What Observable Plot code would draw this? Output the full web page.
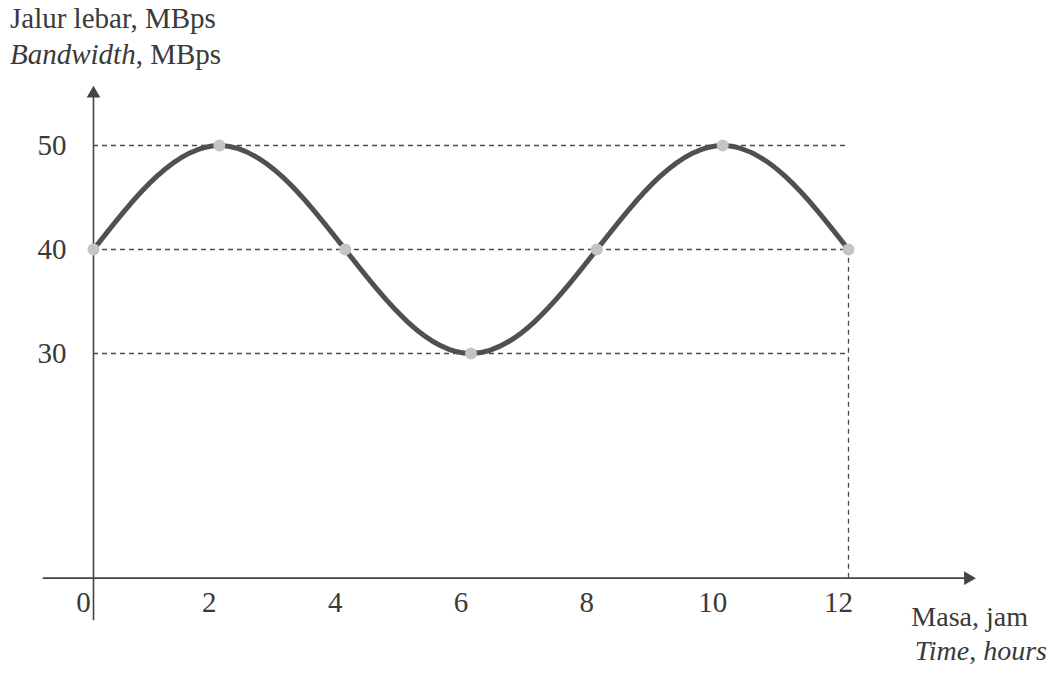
<!DOCTYPE html>
<html>
<head>
<meta charset="utf-8">
<script src="https://cdn.jsdelivr.net/npm/d3@7"></script>
<script src="https://cdn.jsdelivr.net/npm/@observablehq/plot@0.6"></script>
<style>
  html, body { margin: 0; padding: 0; background: #ffffff; }
  #wrap { position: relative; width: 1052px; height: 677px; overflow: hidden; font-family: "Liberation Serif", "DejaVu Serif", serif; color: #3a3a3a; }
  .lbl { position: absolute; font-size: 29px; line-height: 29px; white-space: nowrap; }
  .lbl.tight { font-size: 28px; line-height: 26px; }
  #chart { position: absolute; left: 0; top: 0; }
</style>
</head>
<body>
<div id="wrap">
  <div id="chart"></div>
  <div class="lbl" style="left:10px; top:4px;">Jalur lebar, MBps</div>
  <div class="lbl" style="left:10px; top:40px;"><i>Bandwidth</i>, MBps</div>
  <div class="lbl tight" style="right:24px; top:604px;">Masa, jam</div>
  <div class="lbl tight" style="right:5px; top:638px;"><i>Time</i>, <i>hours</i></div>
</div>
<script>
// Data
const hours = [0, 1, 2, 3, 4, 5, 6, 7, 8, 9, 10, 11, 12];
const bandwidth = [40, 47, 50, 47, 40, 33, 30, 33, 40, 47, 50, 47, 40];
const markHours = [0, 2, 4, 6, 8, 10, 12];
const markValues = [40, 50, 40, 30, 40, 50, 40];
const xTicks = [0, 2, 4, 6, 8, 10, 12];
const yTicks = [30, 40, 50];
const refLines = [30, 40, 50];

// axis extents (in data units) of the hand-drawn axes
const xAxisAt = 8.4;          // y value where the time axis crosses
const xAxisExtent = [-0.8, 13.9];
const yAxisExtent = [4.3, 55];

const curve = hours.map((h, i) => ({h, v: bandwidth[i]}));
const marks = markHours.map((h, i) => ({h, v: markValues[i]}));

const ink = "#444444";
const font = "Liberation Serif";

const plot = Plot.plot({
  width: 1052,
  height: 677,
  marginLeft: 93,
  marginRight: 204,
  marginTop: 145,
  marginBottom: 324,
  x: {domain: [0, 12], axis: null},
  y: {domain: [30, 50], axis: null},
  style: {background: "transparent", fontFamily: font},
  marks: [
    // dashed reference lines
    Plot.ruleY(refLines, {x1: 0, x2: 12, stroke: "#4a4a4a", strokeWidth: 1.3, strokeDasharray: "5,4"}),
    Plot.ruleX([12], {y1: xAxisAt, y2: 40, stroke: "#4a4a4a", strokeWidth: 1.3, strokeDasharray: "5,4"}),
    // axes
    Plot.ruleY([xAxisAt], {x1: xAxisExtent[0], x2: xAxisExtent[1], stroke: ink, strokeWidth: 1.6}),
    Plot.ruleX([0], {y1: yAxisExtent[0], y2: yAxisExtent[1], stroke: ink, strokeWidth: 1.6}),
    Plot.dot([0], {x: 0, y: yAxisExtent[1], symbol: "triangle2", r: 6.5, fill: ink, stroke: "none"}),
    Plot.dot([0], {x: xAxisExtent[1], y: xAxisAt, symbol: "triangle2", r: 6.5, fill: ink, stroke: "none", rotate: 90}),
    // curve
    Plot.line(curve, {x: "h", y: "v", curve: "natural", stroke: "#505050", strokeWidth: 5}),
    Plot.dot(marks, {x: "h", y: "v", r: 6, fill: "#c4c4c4", stroke: "none"}),
    // tick labels
    Plot.text(xTicks, {x: d => d, y: xAxisAt, text: d => String(d), dy: 34, dx: -10, lineAnchor: "bottom", fontSize: 29, fill: "#3a3a3a", fontFamily: font}),
    Plot.text(yTicks, {x: 0, y: d => d, text: d => String(d), dx: -27, textAnchor: "end", fontSize: 29, fill: "#3a3a3a", fontFamily: font})
  ]
});
document.getElementById("chart").appendChild(plot);
</script>
</body>
</html>
